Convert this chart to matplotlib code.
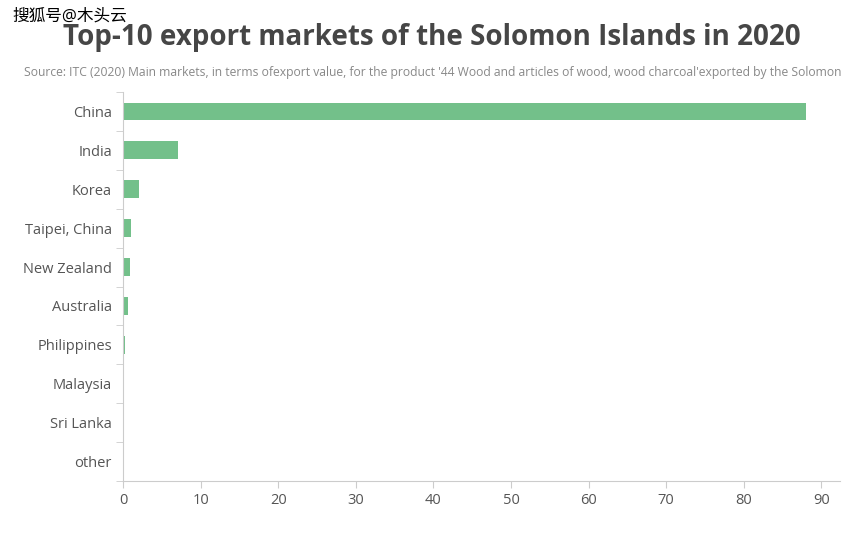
import matplotlib.pyplot as plt
import numpy as np

plt.rcParams['font.family'] = ['Open Sans', 'Noto Sans CJK SC', 'DejaVu Sans']

markets = ['China', 'India', 'Korea', 'Taipei, China', 'New Zealand', 'Australia',
           'Philippines', 'Malaysia', 'Sri Lanka', 'other']
shares = [88.0, 7.1, 2.0, 1.0, 0.9, 0.6, 0.3, 0.1, 0.1, 0.1]

fig = plt.figure(figsize=(8.64, 5.38), dpi=100)
ax = fig.add_axes([123 / 864, 1 - 481 / 538, (840 - 123) / 864, (481 - 92) / 538])

y = np.arange(len(markets))
ax.barh(y, shares, height=0.46, color='#73c08a')
ax.set_ylim(len(markets) - 0.5, -0.5)
ax.set_xlim(0, 92.4)
ax.set_xticks(range(0, 91, 10))
ax.set_yticks(y)
ax.set_yticklabels(markets)
ax.set_yticks(np.arange(-0.5, len(markets), 1), minor=True)
ax.tick_params(axis='y', which='major', length=0, labelsize=10.5, colors='#555555', pad=8)
ax.tick_params(axis='y', which='minor', length=5, color='#cccccc')
ax.tick_params(axis='x', length=5, color='#cccccc', labelsize=10.5, labelcolor='#555555')
for s in ['top', 'right']:
    ax.spines[s].set_visible(False)
for s in ['left', 'bottom']:
    ax.spines[s].set_color('#cccccc')

fig.text(432 / 864, 1 - 38 / 538, 'Top-10 export markets of the Solomon Islands in 2020',
         ha='center', va='center', fontsize=20, fontweight='bold', color='#464646')
fig.text(24 / 864, 1 - 73 / 538,
         "Source: ITC (2020) Main markets, in terms ofexport value, for the product '44 Wood and articles of wood, wood charcoal'exported by the Solomon",
         ha='left', va='center', fontsize=8.7, color='#888888')
fig.text(12 / 864, 1 - 17 / 538, '搜狐号@木头云', ha='left', va='center',
         fontsize=12, color='black')

fig.savefig('out.png', dpi=100)
